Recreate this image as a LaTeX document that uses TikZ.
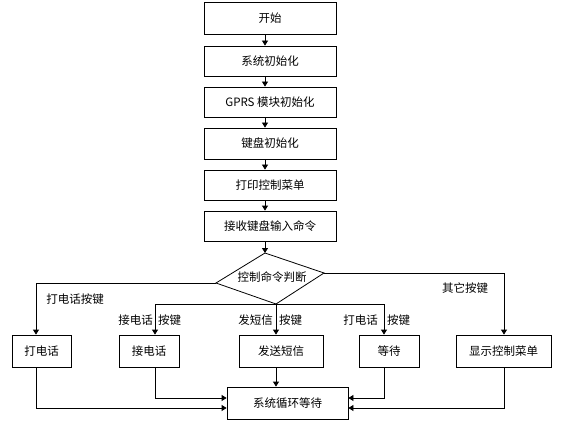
\documentclass[tikz,border=0pt]{standalone}
\usepackage{fontspec}
\newfontfamily\cjk{Noto Sans CJK SC}
\usetikzlibrary{arrows.meta}
\begin{document}
\begin{tikzpicture}[x=1pt,y=-1pt,
  every node/.style={font=\cjk\fontsize{11.5}{13}\selectfont, inner sep=0pt},
  box/.style={draw, line width=0.8pt, minimum height=30pt},
  lbl/.style={},
  line/.style={line width=0.8pt},
  arr/.style={line width=0.8pt, -{Triangle[length=5pt,width=6pt]}}]
\useasboundingbox (0,0) rectangle (564,422);
% main column
\node[box, minimum width=132pt, minimum height=32pt] (b1) at (270,18) {开始};
\node[box, minimum width=132pt] (b2) at (270,61) {系统初始化};
\node[box, minimum width=132pt] (b3) at (270,102) {GPRS 模块初始化};
\node[box, minimum width=132pt, minimum height=31pt] (b4) at (270,143.5) {键盘初始化};
\node[box, minimum width=132pt] (b5) at (270,185) {打印控制菜单};
\node[box, minimum width=132pt] (b6) at (270,226) {接收键盘输入命令};
\coordinate (ax) at (265,0);
% diamond
\coordinate (dT) at (265,253);
\coordinate (dL) at (216,283);
\coordinate (dR) at (324,273);
\coordinate (dB) at (276,304);
\draw[line] (dT) -- (dR) -- (dB) -- (dL) -- cycle;
\node (dm) at (272,277) {控制命令判断};
% bottom row
\node[box, minimum width=59pt, minimum height=32pt] (p1) at (41.5,351) {打电话};
\node[box, minimum width=60pt, minimum height=32pt] (p2) at (149,351) {接电话};
\node[box, minimum width=84pt, minimum height=32pt] (p3) at (281,351) {发送短信};
\node[box, minimum width=60pt, minimum height=32pt] (p4) at (389,351) {等待};
\node[box, minimum width=95pt, minimum height=32pt] (p5) at (503.5,351) {显示控制菜单};
\node[box, minimum width=121pt, minimum height=32pt] (s) at (287.5,403) {系统循环等待};
\coordinate (c1) at (36,0);
\coordinate (c2) at (155,0);
\coordinate (c4) at (384,0);
\coordinate (c5) at (504,0);
\coordinate (yA) at (0,398);
\coordinate (yB) at (0,408);
% main arrows
\draw[arr] (b1.south -| ax) -- (b2.north -| ax);
\draw[arr] (b2.south -| ax) -- (b3.north -| ax);
\draw[arr] (b3.south -| ax) -- (b4.north -| ax);
\draw[arr] (b4.south -| ax) -- (b5.north -| ax);
\draw[arr] (b5.south -| ax) -- (b6.north -| ax);
\draw[arr] (b6.south -| ax) -- (dT);
% branches
\draw[arr] (dL) -| (p1.north -| c1);
\draw[arr] (dB) -| (p2.north -| c2);
\draw[arr] (dB) -- (p3.north -| dB);
\draw[arr] (dB) -| (p4.north -| c4);
\draw[arr] (dR) -| (p5.north -| c5);
% labels
\node (l1) at (75,299) {打电话按键};
\node[anchor=east] (l2a) at (153,320) {接电话};
\node[anchor=west] (l2b) at (158,320) {按键};
\node[anchor=east] (l3a) at (273,320) {发短信};
\node[anchor=west] (l3b) at (279,320) {按键};
\node[anchor=east] (l4a) at (378,320) {打电话};
\node[anchor=west] (l4b) at (387,320) {按键};
\node (l5) at (465,288) {其它按键};
% returns
\draw[arr] (p1.south -| c1) |- (s.west |- yB);
\draw[arr] (p2.south -| c2) |- (s.west |- yA);
\draw[arr] (p3.south -| dB) -- (s.north -| dB);
\draw[arr] (p4.south -| c4) |- (s.east |- yA);
\draw[arr] (p5.south -| c5) |- (s.east |- yB);
\end{tikzpicture}
\end{document}
